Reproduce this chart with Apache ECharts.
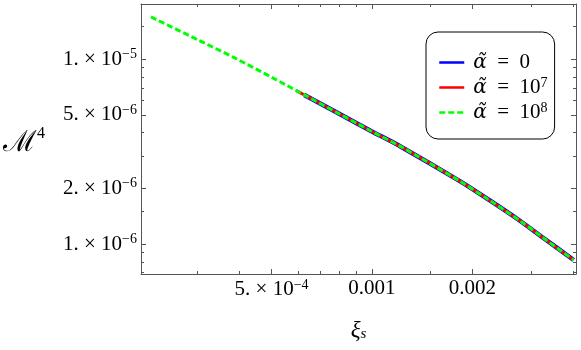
<!DOCTYPE html>
<html><head><meta charset="utf-8">
<script src="https://cdn.jsdelivr.net/npm/echarts@6/dist/echarts.min.js"></script>
<style>html,body{margin:0;padding:0;background:#fff}#c{width:581px;height:350px}</style>
</head><body><div id="c"></div>
<script>
// ---- axis ranges ----
const xRange = [2.03e-4, 4.09e-3];
const yRange = [6.88e-7, 1.99e-5];
// ---- ticks ----
const xMajorTicks = [5e-4, 1e-3, 2e-3];
const xMajorLabels = [['5. × 10', '−4'], ['0.001', ''], ['0.002', '']];
const xMinorTicks = [3e-4, 4e-4, 6e-4, 7e-4, 8e-4, 9e-4, 1.5e-3, 3e-3, 4e-3];
const yMajorTicks = [1e-6, 2e-6, 5e-6, 1e-5];
const yMajorLabels = [['1. × 10', '−6'], ['2. × 10', '−6'], ['5. × 10', '−6'], ['1. × 10', '−5']];
const yMinorTicks = [7e-7, 8e-7, 9e-7, 1.5e-6, 3e-6, 4e-6, 6e-6, 7e-6, 8e-6, 9e-6, 1.5e-5];
// ---- data ----
const seriesNames = ['α̃ = 0', 'α̃ = 10^7', 'α̃ = 10^8'];
const xiBlue = [6.27e-4, 8.0e-4, 9.93e-4, 1.221e-3, 1.824e-3, 2.238e-3, 2.756e-3, 3.274e-3, 4.024e-3];
const mBlue  = [6.41e-6, 5.05e-6, 4.09e-6, 3.363e-6, 2.202e-6, 1.737e-6, 1.349e-6, 1.074e-6, 8.19e-7];
const xiRed  = [5.93e-4, 6.27e-4, 8.0e-4, 9.93e-4, 1.221e-3, 1.824e-3, 2.238e-3, 2.756e-3, 3.274e-3, 4.024e-3];
const mRed   = [6.76e-6, 6.41e-6, 5.05e-6, 4.09e-6, 3.363e-6, 2.202e-6, 1.737e-6, 1.349e-6, 1.074e-6, 8.19e-7];
const xiGreen = [2.174e-4, 3.0e-4, 3.877e-4, 5.0e-4, 6.27e-4, 8.0e-4, 9.93e-4, 1.221e-3, 1.824e-3, 2.238e-3, 2.756e-3, 3.274e-3, 4.024e-3];
const mGreen  = [1.694e-5, 1.276e-5, 1.016e-5, 7.99e-6, 6.41e-6, 5.05e-6, 4.09e-6, 3.363e-6, 2.202e-6, 1.737e-6, 1.349e-6, 1.074e-6, 8.19e-7];

const L = Math.log10;
const FONT = "'Liberation Serif','DejaVu Serif',serif";
const GREEKFONT = "'DejaVu Serif','Liberation Serif',serif";
const AX = '#555';
const pairs = (xs, ys) => xs.map((x, i) => [L(x), L(ys[i])]);
const findIdx = (ticks, v) => ticks.findIndex(t => Math.abs(L(t) - v) < 1e-6);

function mkAxis(dim, pos, ticks, len, showLine, label) {
  const r = dim === 'x' ? xRange : yRange;
  return {
    type: 'value', position: pos, min: L(r[0]), max: L(r[1]),
    axisLine: { show: showLine, onZero: false, lineStyle: { color: AX, width: 1 } },
    splitLine: { show: false },
    axisTick: { show: true, inside: true, length: len, customValues: ticks.map(L), lineStyle: { color: AX, width: 1 } },
    axisLabel: label || { show: false },
    axisPointer: { show: false }
  };
}

const xLabel = {
  show: true, customValues: xMajorTicks.map(L), margin: 4,
  formatter: v => { const p = xMajorLabels[findIdx(xMajorTicks, v)]; return p[1] ? '{b|' + p[0] + '}{s|' + p[1] + '}' : '{b|' + p[0] + '}'; },
  rich: { b: { fontFamily: FONT, fontSize: 21, color: '#000' }, s: { fontFamily: FONT, fontSize: 14, color: '#000', padding: [0, 0, 9, 0] } }
};
const yLabel = {
  show: true, customValues: yMajorTicks.map(L), margin: 4,
  formatter: v => { const p = yMajorLabels[findIdx(yMajorTicks, v)]; return '{b|' + p[0] + '}{s|' + p[1] + '}'; },
  rich: { b: { fontFamily: FONT, fontSize: 21, color: '#000' }, s: { fontFamily: FONT, fontSize: 14, color: '#000', padding: [0, 0, 10, 0] } }
};

const xAxes = [
  Object.assign(mkAxis('x', 'bottom', xMajorTicks, 5, true, xLabel), {
    name: '{x|ξ}{s|s}', nameLocation: 'middle', nameGap: 45,
    nameTextStyle: { rich: { x: { fontFamily: FONT, fontSize: 23, fontStyle: 'italic', color: '#000' }, s: { fontFamily: FONT, fontSize: 15, fontStyle: 'italic', color: '#000', padding: [8, 0, 0, 0] } } }
  }),
  mkAxis('x', 'bottom', xMinorTicks, 3, false),
  mkAxis('x', 'top', xMajorTicks, 5, true),
  mkAxis('x', 'top', xMinorTicks, 3, false)
];
const yAxes = [
  Object.assign(mkAxis('y', 'left', yMajorTicks, 5, true, yLabel), {
    name: '{m|ℳ}{s|4}', nameLocation: 'middle', nameRotate: 0, nameGap: 96,
    nameTextStyle: { rich: { m: { fontFamily: FONT, fontSize: 29, color: '#000', padding: [8, 0, 0, 0] }, s: { fontFamily: FONT, fontSize: 16, color: '#000', padding: [0, 0, 10, 0] } } }
  }),
  mkAxis('y', 'left', yMinorTicks, 3, false),
  mkAxis('y', 'right', yMajorTicks, 5, true),
  mkAxis('y', 'right', yMinorTicks, 3, false)
];

const legendRich = {
  i: { fontFamily: GREEKFONT, fontSize: 20, fontStyle: 'italic', color: '#000', padding: [0, 0, 0, 4] },
  b: { fontFamily: FONT, fontSize: 21, color: '#000' },
  s: { fontFamily: FONT, fontSize: 14, color: '#000', padding: [0, 0, 9, 0] }
};
function legendFmt(name) {
  const parts = name.split('^');
  const main = parts[0].replace('α̃', '').replace(' = ', '\u2002=\u2002');
  let s = '{i|α̃}{b|' + main + '}';
  if (parts[1]) s += '{s|' + parts[1] + '}';
  return s;
}

const chart = echarts.init(document.getElementById('c'), null, { renderer: 'canvas' });
chart.setOption({
  animation: false,
  backgroundColor: '#fff',
  grid: { left: 139, right: 5, top: 4, bottom: 76, containLabel: false },
  xAxis: xAxes,
  yAxis: yAxes,
  legend: {
    orient: 'vertical', left: 426, top: 32,
    itemWidth: 25, itemHeight: 14, itemGap: 3,
    padding: [20, 7, 16, 12],
    backgroundColor: '#fff', borderColor: '#000', borderWidth: 1, borderRadius: 12,
    lineStyle: { width: 2.5 },
    itemStyle: { opacity: 0 },
    formatter: legendFmt,
    textStyle: { rich: legendRich },
    selectedMode: false
  },
  series: [
    { name: seriesNames[0], type: 'line', data: pairs(xiBlue, mBlue), smooth: 0.3, symbol: 'none',
      lineStyle: { color: '#0000ff', width: 4.5 }, itemStyle: { color: '#0000ff' }, z: 2 },
    { name: seriesNames[1], type: 'line', data: pairs(xiRed, mRed), smooth: 0.3, symbol: 'none',
      lineStyle: { color: '#ff0000', width: 3 }, itemStyle: { color: '#ff0000' }, z: 3 },
    { name: seriesNames[2], type: 'line', data: pairs(xiGreen, mGreen), smooth: 0.3, symbol: 'none',
      lineStyle: { color: '#00ff00', width: 3, type: [6, 3] }, itemStyle: { color: '#00ff00' }, z: 4 }
  ]
});
</script></body></html>
